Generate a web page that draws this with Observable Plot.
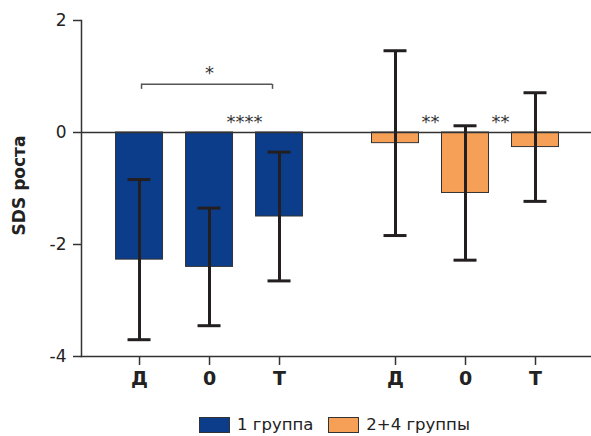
<!DOCTYPE html>
<html><head><meta charset="utf-8">
<script src="https://cdn.jsdelivr.net/npm/d3@7"></script>
<script src="https://cdn.jsdelivr.net/npm/@observablehq/plot@0.6"></script>
<style>
body{margin:0;background:#fff;font-family:"DejaVu Sans",sans-serif;}
#legend{display:flex;align-items:center;margin-left:199px;margin-top:22px;font-size:16.5px;color:#222;line-height:16px}
#legend .sw{width:29px;height:14px;border:1px solid #333;margin-right:7px;box-sizing:content-box}
#legend .item{display:flex;align-items:center;margin-right:15px}
#chart g[aria-label="x-axis tick label"]{font-size:19px;font-weight:bold}
#chart g[aria-label="y-axis tick label"]{font-size:17px}
</style></head><body><div id="chart"></div><div id="legend"></div>
<script>
const groups = ["1 группа", "2+4 группы"];
const timepoints = ["Д", "0", "Т"];
const groupColors = ["#0b3d8b", "#f6a057"];
const mean1 = [-2.27, -2.40, -1.50];
const sd1 = [1.43, 1.05, 1.15];
const mean2 = [-0.19, -1.08, -0.26];
const sd2 = [1.65, 1.20, 0.97];
const yTicks = [-4, -2, 0, 2];
const yLabel = "SDS роста";
const brackets = [{gi: 0, from: "Д", to: "Т", label: "*"}];
const sigLabels = [
  {gi: 0, from: "0", to: "Т", label: "****"},
  {gi: 1, from: "Д", to: "0", label: "**"},
  {gi: 1, from: "0", to: "Т", label: "**"}
];

// layout
const GROUP_STEP = 3.657;
const BRACKET_Y = 0.86, BRACKET_LEG = 0.77, BRACKET_TEXT_Y = 1.05, SIG_Y = 0.185;

const rows = [];
groups.forEach((g, gi) => timepoints.forEach((t, ti) => rows.push({
  group: g, gi, time: t, ti,
  mean: [mean1, mean2][gi][ti],
  sd: [sd1, sd2][gi][ti]
})));
const X = d => d.gi * GROUP_STEP + d.ti;
const P = (gi, t) => gi * GROUP_STEP + timepoints.indexOf(t);
const tickPos = rows.map(X);
const tickLab = new Map(rows.map(d => [X(d), d.time]));

const cap = {stroke: "#231f20", strokeWidth: 3, insetLeft: -11.5, insetRight: -11.5};

const chart = Plot.plot({
  width: 591, height: 395,
  marginLeft: 81, marginRight: 0, marginTop: 20, marginBottom: 39,
  style: {fontFamily: "'DejaVu Sans', sans-serif", fontSize: "17px", color: "#222", background: "#fff"},
  x: {domain: [-0.829, 6.457]},
  y: {domain: [-4, 2]},
  color: {domain: groups, range: groupColors},
  marks: [
    Plot.rectY(rows, {x1: X, x2: X, y1: 0, y2: "mean", fill: "group", stroke: "#333", strokeWidth: 1, insetLeft: -23.5, insetRight: -23.5}),
    Plot.ruleY([0], {stroke: "#333", strokeWidth: 1.5}),
    Plot.ruleX(rows, {x: X, y1: d => d.mean - d.sd, y2: d => d.mean + d.sd, stroke: "#231f20", strokeWidth: 3}),
    Plot.ruleY(rows, {x1: X, x2: X, y: d => d.mean - d.sd, ...cap}),
    Plot.ruleY(rows, {x1: X, x2: X, y: d => d.mean + d.sd, ...cap}),
    Plot.ruleY(brackets, {x1: d => P(d.gi, d.from), x2: d => P(d.gi, d.to), y: BRACKET_Y, stroke: "#555", strokeWidth: 1.5, insetLeft: 2, insetRight: 7}),
    Plot.ruleX(brackets, {x: d => P(d.gi, d.from), y1: BRACKET_LEG, y2: BRACKET_Y, stroke: "#555", strokeWidth: 1.5, dx: 2}),
    Plot.ruleX(brackets, {x: d => P(d.gi, d.to), y1: BRACKET_LEG, y2: BRACKET_Y, stroke: "#555", strokeWidth: 1.5, dx: -7}),
    Plot.text(brackets, {x: d => (P(d.gi, d.from) + P(d.gi, d.to)) / 2, y: BRACKET_TEXT_Y, text: "label", fontSize: 18, fill: "#333", lineAnchor: "middle"}),
    Plot.text(sigLabels, {x: d => (P(d.gi, d.from) + P(d.gi, d.to)) / 2, y: SIG_Y, text: "label", fontSize: 18, fill: "#333", lineAnchor: "middle"}),
    Plot.frame({anchor: "left", stroke: "#333", strokeWidth: 1.5}),
    Plot.frame({anchor: "bottom", stroke: "#333", strokeWidth: 1.5}),
    Plot.axisY({ticks: yTicks, tickFormat: d => String(d), tickSize: 8, tickPadding: 7, fontSize: 17, label: null, stroke: "#333", strokeWidth: 1.5, fill: "#222"}),
    Plot.axisX({ticks: tickPos, tickFormat: d => tickLab.get(d), tickSize: 9, tickPadding: 6, fontSize: 19, fontWeight: "bold", label: null, stroke: "#333", strokeWidth: 1.5, fill: "#222"}),
    Plot.text([yLabel], {text: d => d, frameAnchor: "left", textAnchor: "middle", dx: -62, dy: -3, rotate: -90, fontSize: 17, fontWeight: "bold", fill: "#222"})
  ]
});
document.getElementById("chart").append(chart);

const legend = document.getElementById("legend");
groups.forEach((g, i) => {
  const item = document.createElement("div");
  item.className = "item";
  const sw = document.createElement("div");
  sw.className = "sw";
  sw.style.background = groupColors[i];
  const lab = document.createElement("span");
  lab.textContent = g;
  item.append(sw, lab);
  legend.append(item);
});
</script></body></html>
